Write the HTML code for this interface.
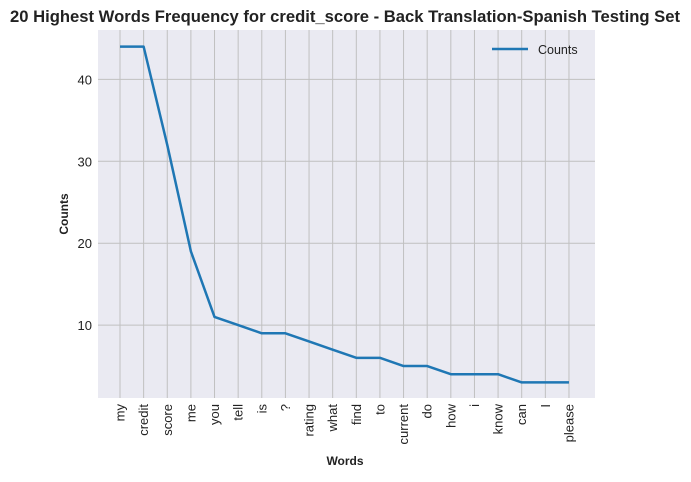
<!DOCTYPE html>
<html><head><meta charset="utf-8"><style>
body{margin:0;background:#fff;width:691px;height:477px;overflow:hidden}
text{font-family:"Liberation Sans",Arial,sans-serif}
</style></head><body>
<svg id="chart" width="691" height="477" xmlns="http://www.w3.org/2000/svg">
<text x="345" y="22" text-anchor="middle" font-size="16.5" font-weight="bold" fill="#222" textLength="670" lengthAdjust="spacingAndGlyphs">20 Highest Words Frequency for credit_score - Back Translation-Spanish Testing Set</text>
<rect x="98" y="30" width="497" height="368" fill="#eaeaf2"/>
<g id="grid"></g>
<g id="series"></g>
<text transform="translate(68,214) rotate(-90)" text-anchor="middle" font-size="12" font-weight="bold" fill="#222">Counts</text>
<text x="345" y="465" text-anchor="middle" font-size="12" font-weight="bold" fill="#222">Words</text>
<g>
<line x1="492" y1="49" x2="528" y2="49" stroke="#1f77b4" stroke-width="2.5"/>
<text x="538" y="54" font-size="12.5" fill="#222">Counts</text>
</g>
</svg>
<script>
const words=["my","credit","score","me","you","tell","is","?","rating","what","find","to","current","do","how","i","know","can","I","please"];
const counts=[44,44,32,19,11,10,9,9,8,7,6,6,5,5,4,4,4,3,3,3];
const yTicks=[10,20,30,40];
const NS="http://www.w3.org/2000/svg";
const x=i=>120+i*23.63;
const y=v=>407-v*8.19;
const grid=document.getElementById('grid'),ser=document.getElementById('series');
function mk(t,a,p){const e=document.createElementNS(NS,t);for(const k in a)e.setAttribute(k,a[k]);p.appendChild(e);return e;}
yTicks.forEach(v=>{
 const l=mk('line',{x1:98,x2:595,y1:y(v),y2:y(v),stroke:'#c0c0c0','stroke-width':1},grid);
 
 
 const t=mk('text',{x:92,y:y(v)+5,'text-anchor':'end','font-size':13,fill:'#222'},grid);
 t.textContent=v;
 
 
});
words.forEach((w,i)=>{
 const l=mk('line',{x1:x(i),x2:x(i),y1:30,y2:398,stroke:'#c0c0c0','stroke-width':1},grid);
 
 
 const t=mk('text',{transform:`translate(${x(i)+4.5},404) rotate(-90)`,'text-anchor':'end','font-size':13,fill:'#222'},grid);
 t.textContent=w;
 
 
});
const p=mk('polyline',{points:counts.map((c,i)=>x(i)+','+y(c)).join(' '),fill:'none',stroke:'#1f77b4','stroke-width':2.5,'stroke-linejoin':'round'},ser);


</script>
</body></html>
